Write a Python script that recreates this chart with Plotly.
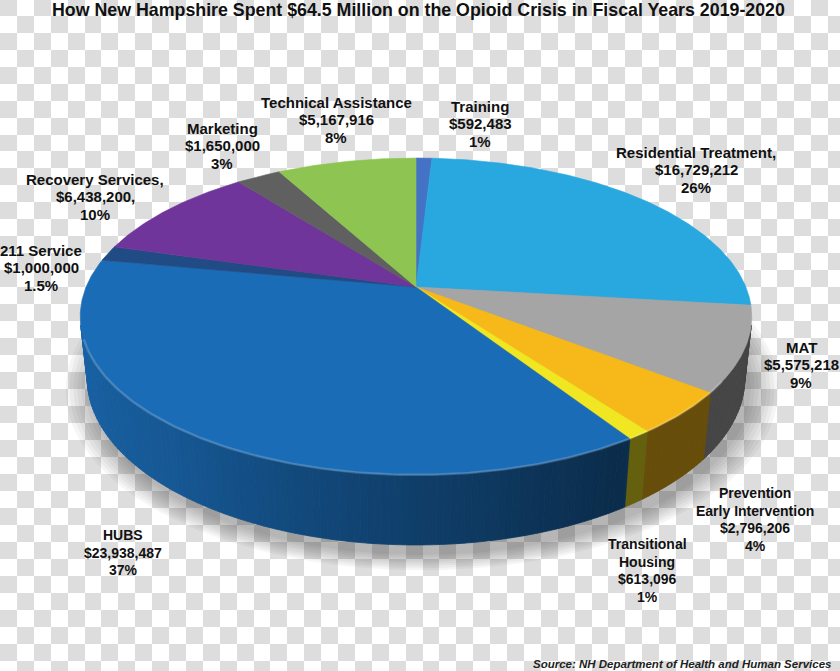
import numpy as np
import plotly.graph_objects as go

# ---------------- data ----------------
title_text = "How New Hampshire Spent $64.5 Million on the Opioid Crisis in Fiscal Years 2019-2020"
source_text = "Source: NH Department of Health and Human Services"

categories = ["Training", "Residential Treatment", "MAT", "Prevention Early Intervention",
              "Transitional Housing", "HUBS", "211 Service", "Recovery Services",
              "Marketing", "Technical Assistance"]
amounts = [592483, 16729212, 5575218, 2796206, 613096,
           23938487, 1000000, 6438200, 1650000, 5167916]
percent_labels = ["1%", "26%", "9%", "4%", "1%", "37%", "1.5%", "10%", "3%", "8%"]
label_names = [["Training"], ["Residential Treatment,"], ["MAT"],
               ["Prevention", "Early Intervention"], ["Transitional", "Housing"],
               ["HUBS"], ["211 Service"], ["Recovery Services,"], ["Marketing"],
               ["Technical Assistance"]]
amount_suffix = ["", "", "", "", "", "", "", ",", "", ""]

# ---------------- style ----------------
top_colors = ["#4472c4", "#29a8e0", "#a5a5a5", "#f6b919", "#f1e622",
              "#1b6cb6", "#214b85", "#70359a", "#606060", "#8dc452"]
label_pos = [(480, 106), (696, 152), (801, 347), (755, 493), (647, 544),
             (123, 535), (41, 250), (95, 179), (222, 128), (336, 102)]
narrow = [False, False, False, True, True, True, False, False, False, False]
LINE_STEP = 17.5

W, H_PX = 840, 671

# projection of the 3-D pie (camera geometry)
CX, CY = 416.0, 287.0
FOC = 1571.0
LDIST = 1.0
RAD = 0.21
THICK = 0.0448
SPHI = 0.4636
CPHI = np.sqrt(1 - SPHI ** 2)


def proj(theta_deg, z):
    t = np.radians(theta_deg)
    X = RAD * np.sin(t)
    Y = RAD * np.cos(t)
    depth = LDIST + Y * CPHI - z * SPHI
    u = FOC * X / depth
    v = FOC * (Y * SPHI + z * CPHI) / depth
    return CX + u, CY - v


def shade_hex(hexcol, f):
    h = hexcol.lstrip("#")
    r, g, b = (int(h[i:i + 2], 16) for i in (0, 2, 4))
    return "rgb(%d,%d,%d)" % (int(r * f), int(g * f), int(b * f))


def side_shade(theta):
    return float(np.interp(theta, [100, 150, 180, 220, 260], [0.42, 0.42, 0.58, 0.82, 0.92]))


fig = go.Figure()

# ---- checkerboard background (transparency pattern) ----
SX, SY, OY = 16.9, 16.98, -1.3
ncol = int(W / SX) + 2
nrow = int(H_PX / SY) + 2
board = [[1 if (r + c) % 2 == 0 else 0 for c in range(ncol)] for r in range(nrow)]
fig.add_trace(go.Heatmap(z=board, x0=SX / 2, dx=SX, y0=OY + SY / 2, dy=SY,
                         colorscale=[[0, "#ffffff"], [1, "#dddddd"]], showscale=False,
                         hoverinfo="skip", zmin=0, zmax=1))

# ---- slice angles from the data ----
total = float(sum(amounts))
cum = np.concatenate([[0.0], np.cumsum(amounts)]) / total * 360.0

# ---- soft shadow ----
ths = np.linspace(0, 360, 241)
bx, by = proj(ths, -THICK)
bcx, bcy = np.mean(bx), np.mean(by)
for k in range(8):
    s = 1.0 + 0.012 * k
    fig.add_trace(go.Scatter(x=bcx + 6 + (bx - bcx) * s, y=bcy + 10 + (by - bcy) * s,
                             mode="lines", fill="toself", fillcolor="rgba(0,0,0,0.04)",
                             line=dict(width=0), hoverinfo="skip", showlegend=False))

# ---- visible outer sides ----
tmin = np.degrees(np.arccos(-RAD / (LDIST * CPHI)))
tmax = 360 - tmin
grid = set(np.arange(np.ceil(tmin), np.floor(tmax) + 1, 1.0).tolist())
grid.update([tmin, tmax])
grid.update([b for b in cum if tmin < b < tmax])
grid = sorted(grid)
for a, b in zip(grid[:-1], grid[1:]):
    mid = 0.5 * (a + b)
    idx = int(np.searchsorted(cum, mid) - 1)
    col = shade_hex(top_colors[idx], side_shade(mid))
    xa0, ya0 = proj(a, 0)
    xb0, yb0 = proj(b, 0)
    xa1, ya1 = proj(a, -THICK)
    xb1, yb1 = proj(b, -THICK)
    fig.add_trace(go.Scatter(x=[xa0, xb0, xb1, xa1, xa0], y=[ya0, yb0, yb1, ya1, ya0],
                             mode="lines", fill="toself", fillcolor=col,
                             line=dict(color=col, width=0.8), hoverinfo="skip",
                             showlegend=False))

# ---- top faces ----
for i, name in enumerate(categories):
    a, b = cum[i], cum[i + 1]
    n = max(3, int((b - a) / 0.5) + 2)
    t = np.linspace(a, b, n)
    rx, ry = proj(t, 0)
    xs = np.concatenate([[CX], rx, [CX]])
    ys = np.concatenate([[CY], ry, [CY]])
    fig.add_trace(go.Scatter(x=xs, y=ys, mode="lines", fill="toself",
                             fillcolor=top_colors[i],
                             line=dict(color=top_colors[i], width=0.6),
                             name=name, hoverinfo="name", showlegend=False))

# ---- subtle bevel highlight along the front rim ----
tr = np.linspace(tmin + 20, tmax - 5, 200)
hx, hy = proj(tr, 0)
fig.add_trace(go.Scatter(x=hx, y=hy, mode="lines", line=dict(color="rgba(255,255,255,0.18)", width=2.5),
                         hoverinfo="skip", showlegend=False))

# ---- labels ----
annotations = []
for i in range(len(categories)):
    lines = label_names[i] + ["${:,}{}".format(amounts[i], amount_suffix[i]), percent_labels[i]]
    x0, y0 = label_pos[i]
    size = 14 if narrow[i] else 15
    for j, ln in enumerate(lines):
        annotations.append(dict(x=x0, y=y0 + j * LINE_STEP, xref="x", yref="y", text=ln,
                                showarrow=False, xanchor="center", yanchor="middle",
                                font=dict(family="Liberation Sans, Arial", size=size,
                                          color="#111111", weight="bold")))

annotations.append(dict(x=418, y=10, xref="x", yref="y", text=title_text, showarrow=False,
                        xanchor="center", yanchor="middle",
                        font=dict(family="Liberation Sans, Arial", size=17.8, color="#111111",
                                  weight="bold")))
annotations.append(dict(x=833, y=664, xref="x", yref="y", text=source_text, showarrow=False,
                        xanchor="right", yanchor="middle",
                        font=dict(family="Liberation Sans, Arial", size=11.5, color="#222222",
                                  weight="bold", style="italic")))

fig.update_layout(
    width=W, height=H_PX,
    margin=dict(l=0, r=0, t=0, b=0),
    paper_bgcolor="white", plot_bgcolor="white",
    xaxis=dict(range=[0, W], visible=False, fixedrange=True),
    yaxis=dict(range=[H_PX, 0], visible=False, fixedrange=True),
    annotations=annotations,
    showlegend=False,
)

fig.write_html("out.html", config={"displayModeBar": False},
               post_script="document.body.style.margin='0px';document.body.style.overflow='hidden';")
